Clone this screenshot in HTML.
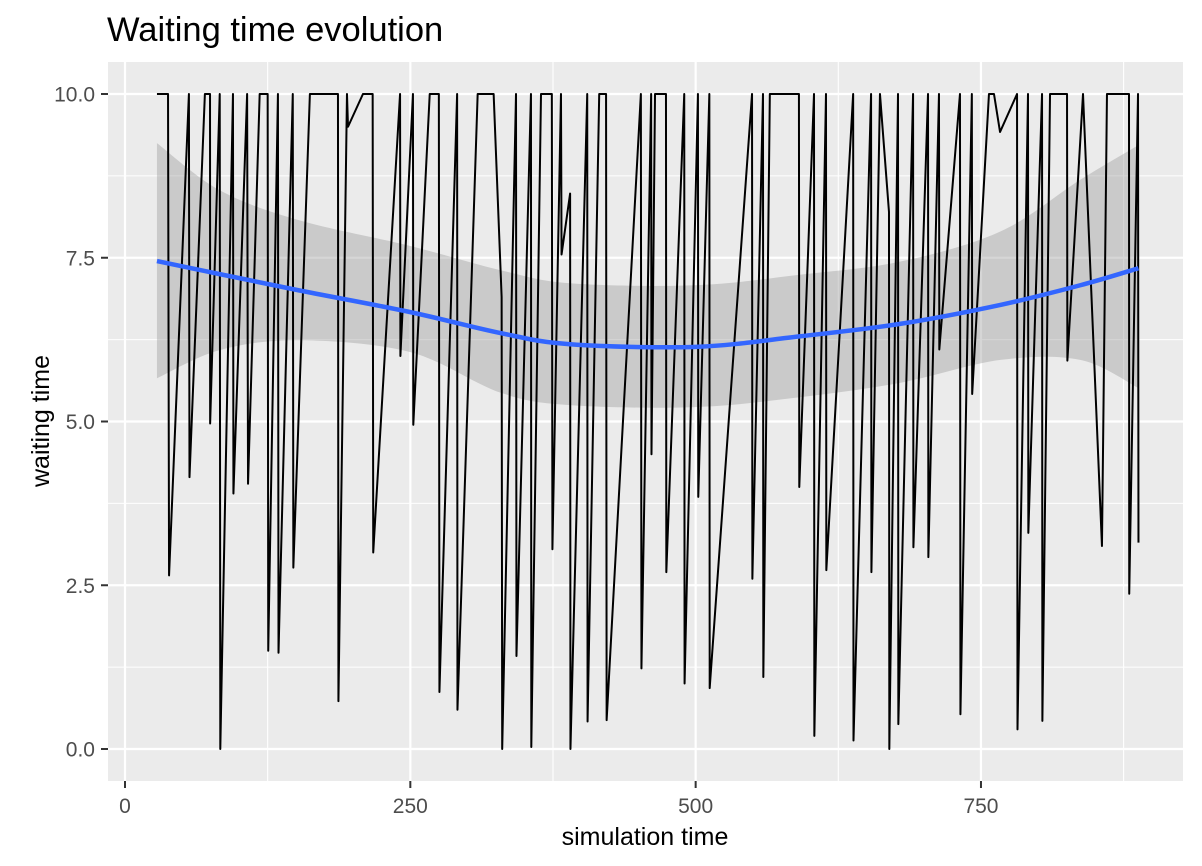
<!DOCTYPE html>
<html><head><meta charset="utf-8">
<style>
html,body{margin:0;padding:0;background:#fff;}
svg{display:block;font-family:"Liberation Sans",Arial,sans-serif;}
</style></head>
<body>
<svg id="chart" width="1202" height="866">
<rect x="0" y="0" width="1202" height="866" fill="#fff"/>
<text x="107" y="41" font-size="34.5" fill="#000">Waiting time evolution</text>
<rect x="108" y="62" width="1075" height="719" fill="#ebebeb"/>
<g id="grid"></g>
<g id="ribbon"></g>
<g id="series"></g>
<g id="smooth"></g>
<g id="axes"></g>
<text x="645" y="845" font-size="25" text-anchor="middle" fill="#000">simulation time</text>
<text x="0" y="0" font-size="25" text-anchor="middle" fill="#000" transform="translate(49,421) rotate(-90)">waiting time</text>
</svg>
<script>
const times = [28,37.7,38.6,56,56.5,70,74.5,74.6,83,83.5,94.6,95,107,107.8,118,125,125.5,134,134.5,147,147.5,162,167,186.6,187,194.5,195.4,208.5,217,217.5,241,241.3,252.3,252.6,267,275,275.5,291,291.3,309,323,330,330.5,342.6,343,355.7,356,364.5,374,374.5,382,382.5,390,390.3,405,405.3,415.5,421.5,422,452,452.5,461,461.3,464.4,474,474.3,490,490.3,502,502.3,512,512.3,549.4,549.7,559,559.3,565,590.5,590.8,603.7,604,614.2,614.5,638,638.3,653.7,654,661.5,669.4,669.7,677.3,677.6,690.5,690.8,703.6,703.9,713.2,713.5,731.6,732,742,742.3,757,761.4,766.7,781.6,782,791.2,791.5,803.5,803.8,810.5,825.4,825.7,839.4,856,860.4,879.7,879.9,887.6,888];
const waits = [10,10,2.65,10,4.15,10,10,4.97,10,0,10,3.9,10,4.05,10,10,1.5,10,1.47,10,2.77,10,10,10,0.73,10,9.5,10,10,3.0,10,6.0,10,4.95,10,10,0.87,10,0.6,10,10,6.9,0,10,1.42,10,0.03,10,10,3.05,10,7.55,8.48,0,10,0.42,10,10,0.44,10,1.23,10,4.5,10,10,2.7,10,1.0,10,3.85,10,0.93,10,2.6,10,1.1,10,10,4.0,10,0.2,10,2.73,10,0.13,10,2.7,10,8.2,0,10,0.38,10,3.08,10,2.93,10,6.1,10,0.53,10,5.42,10,10,9.42,10,0.3,10,3.3,10,0.43,10,10,5.93,10,3.1,10,10,2.37,10,3.15];
const smoothT = [28,83,153,250,329,390,500,591,679,767,837,888];
const smoothY = [7.45,7.25,7.0,6.67,6.35,6.18,6.14,6.3,6.49,6.78,7.08,7.34];
const ciUpper = [9.25,8.53,8.07,7.68,7.31,7.11,7.08,7.24,7.44,7.9,8.69,9.22];
const ciLower = [5.66,6.09,6.24,6.06,5.44,5.25,5.22,5.37,5.59,5.94,5.94,5.51];
const xTicks = [0,250,500,750];
const xMinor = [125,375,625,875];
const yTicks = [0,2.5,5,7.5,10];
const yTickLabels = ["0.0","2.5","5.0","7.5","10.0"];
const yMinor = [1.25,3.75,6.25,8.75];

const NS = "http://www.w3.org/2000/svg";
const PL = 108, PR = 1183, PT = 62, PB = 781;
function xs(t){ return 125 + t * 1.1413; }
function ys(v){ return 749 - v * 65.5; }
function mk(tag, attrs, parent){
  const e = document.createElementNS(NS, tag);
  for (const k in attrs) e.setAttribute(k, attrs[k]);
  parent.appendChild(e);
  return e;
}
const grid = document.getElementById('grid');
xMinor.forEach(t => {
  const l = mk('line', {x1: xs(t), x2: xs(t), y1: PT, y2: PB, stroke: '#fff', 'stroke-width': 1.1}, grid);
  
  
});
yMinor.forEach(v => {
  const l = mk('line', {x1: PL, x2: PR, y1: ys(v), y2: ys(v), stroke: '#fff', 'stroke-width': 1.1}, grid);
  
  
});
xTicks.forEach(t => {
  const l = mk('line', {x1: xs(t), x2: xs(t), y1: PT, y2: PB, stroke: '#fff', 'stroke-width': 2.2}, grid);
  
  
});
yTicks.forEach(v => {
  const l = mk('line', {x1: PL, x2: PR, y1: ys(v), y2: ys(v), stroke: '#fff', 'stroke-width': 2.2}, grid);
  
  
});

function crSegs(xa, ya){
  let p = '';
  for (let i = 0; i < xa.length - 1; i++){
    const x0 = xa[Math.max(i-1,0)], y0 = ya[Math.max(i-1,0)];
    const x1 = xa[i], y1 = ya[i], x2 = xa[i+1], y2 = ya[i+1];
    const x3 = xa[Math.min(i+2,xa.length-1)], y3 = ya[Math.min(i+2,xa.length-1)];
    p += 'C' + (x1+(x2-x0)/6) + ',' + (y1+(y2-y0)/6) + ' ' + (x2-(x3-x1)/6) + ',' + (y2-(y3-y1)/6) + ' ' + x2 + ',' + y2;
  }
  return p;
}
function smoothPath(xa, ya){ return 'M' + xa[0] + ',' + ya[0] + crSegs(xa, ya); }

const ux = smoothT.map(xs), uy = ciUpper.map(ys);
const lx = smoothT.map(xs).reverse(), ly = ciLower.map(ys).reverse();
const rd = 'M' + ux[0] + ',' + uy[0] + crSegs(ux, uy) + 'L' + lx[0] + ',' + ly[0] + crSegs(lx, ly) + 'Z';
const rib = mk('path', {d: rd, fill: '#999999', 'fill-opacity': 0.4, stroke: 'none'}, document.getElementById('ribbon'));



const pts = times.map((t, i) => xs(t) + ',' + ys(waits[i])).join(' ');
const line = mk('polyline', {points: pts, fill: 'none', stroke: '#000', 'stroke-width': 2, 'stroke-linejoin': 'round'}, document.getElementById('series'));



const sm = mk('path', {d: smoothPath(smoothT.map(xs), smoothY.map(ys)), fill: 'none', stroke: '#3366FF', 'stroke-width': 4.5}, document.getElementById('smooth'));



const axes = document.getElementById('axes');
xTicks.forEach(t => {
  const tk = mk('line', {x1: xs(t), x2: xs(t), y1: PB, y2: PB + 7, stroke: '#333', 'stroke-width': 2}, axes);
  
  
  const tx = mk('text', {x: xs(t), y: PB + 32, 'font-size': 21, fill: '#4d4d4d', 'text-anchor': 'middle'}, axes);
  tx.textContent = String(t);
  
  
});
yTicks.forEach((v, i) => {
  const tk = mk('line', {x1: PL - 7, x2: PL, y1: ys(v), y2: ys(v), stroke: '#333', 'stroke-width': 2}, axes);
  
  
  const tx = mk('text', {x: PL - 13, y: ys(v) + 7.5, 'font-size': 21, fill: '#4d4d4d', 'text-anchor': 'end'}, axes);
  tx.textContent = yTickLabels[i];
  
  
});
</script>
</body></html>
